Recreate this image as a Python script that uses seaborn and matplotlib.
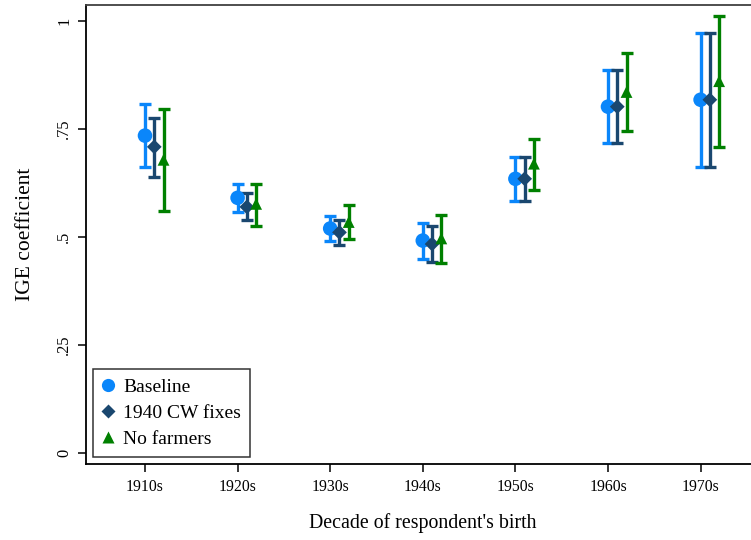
import numpy as np
import pandas as pd
import matplotlib
matplotlib.use("Agg")
import matplotlib.pyplot as plt
from matplotlib.lines import Line2D
import seaborn as sns

decades = ["1910s", "1920s", "1930s", "1940s", "1950s", "1960s", "1970s"]
series = ["Baseline", "1940 CW fixes", "No farmers"]

baseline_est = [0.734, 0.590, 0.519, 0.491, 0.634, 0.801, 0.817]
baseline_lo = [0.661, 0.557, 0.491, 0.448, 0.583, 0.718, 0.662]
baseline_hi = [0.808, 0.623, 0.548, 0.532, 0.685, 0.885, 0.972]

cw_est = [0.708, 0.569, 0.510, 0.483, 0.634, 0.801, 0.817]
cw_lo = [0.638, 0.539, 0.481, 0.441, 0.583, 0.718, 0.662]
cw_hi = [0.775, 0.600, 0.538, 0.525, 0.685, 0.885, 0.972]

nf_est = [0.678, 0.576, 0.534, 0.496, 0.669, 0.835, 0.860]
nf_lo = [0.560, 0.525, 0.494, 0.440, 0.609, 0.744, 0.708]
nf_hi = [0.796, 0.622, 0.573, 0.550, 0.727, 0.925, 1.011]

yticks = [0, 0.25, 0.5, 0.75, 1]
ytick_labels = ["0", ".25", ".5", ".75", "1"]

colors = ["#0a86fa", "#1a476f", "#008000"]
markers = ["o", "D", "^"]
msizes = [10.5, 7.5, 8.5]
offsets = [0.0, 0.1, 0.2]

sns.set_theme(style="white")
plt.rcParams["font.family"] = ["Liberation Serif", "DejaVu Serif"]
plt.rcParams["text.color"] = "black"
plt.rcParams["axes.labelcolor"] = "black"
plt.rcParams["xtick.color"] = "black"
plt.rcParams["ytick.color"] = "black"

rows = []
ests = [baseline_est, cw_est, nf_est]
los = [baseline_lo, cw_lo, nf_lo]
his = [baseline_hi, cw_hi, nf_hi]
for s_i, s in enumerate(series):
    for d_i, d in enumerate(decades):
        rows.append({"series": s, "decade": d, "x": d_i + offsets[s_i],
                     "est": ests[s_i][d_i], "lo": los[s_i][d_i], "hi": his[s_i][d_i]})
df = pd.DataFrame(rows)

fig = plt.figure(figsize=(7.51, 5.40), dpi=100)
W, H = 751, 540
left_px, right_px, top_px, bot_px = 86, 760, 4.7, 464
ax = fig.add_axes([left_px / W, 1 - bot_px / H, (right_px - left_px) / W, (bot_px - top_px) / H])

for s_i, s in enumerate(series):
    sub = df[df["series"] == s]
    ax.errorbar(sub["x"], sub["est"], yerr=[sub["est"] - sub["lo"], sub["hi"] - sub["est"]],
                fmt="none", ecolor=colors[s_i], elinewidth=2.4, capsize=4.3, capthick=2.4, zorder=2)

sns.scatterplot(data=df, x="x", y="est", hue="series", style="series",
                palette=dict(zip(series, colors)), markers=dict(zip(series, markers)),
                size="series", sizes=dict(zip(series, [m ** 2 for m in msizes])),
                edgecolor="none", linewidth=0, legend=False, ax=ax, zorder=3)

px_per_unit = 92.6
x0_px = 145
ax.set_xlim((left_px - x0_px) / px_per_unit, (right_px - x0_px) / px_per_unit)
y0_px, px_per_y = 452.7, 432
ax.set_ylim((y0_px - bot_px) / px_per_y, (y0_px - top_px) / px_per_y)

ax.set_xticks(range(len(decades)))
ax.set_xticklabels(decades, fontsize=11.3)
ax.set_yticks(yticks)
ax.set_yticklabels(ytick_labels, fontsize=11.8, rotation=90, va="center")
ax.tick_params(axis="both", direction="out", length=6, width=1.1, color="black",
               labelcolor="black", left=True, bottom=True, pad=4)
ax.tick_params(axis="x", pad=5)

for side in ["left", "bottom"]:
    ax.spines[side].set_color("black")
    ax.spines[side].set_linewidth(1.3)
ax.spines["top"].set_color("#404040")
ax.spines["top"].set_linewidth(1.3)
ax.spines["right"].set_visible(False)

ax.set_xlabel("Decade of respondent's birth", fontsize=14.3, labelpad=13, color="black")
ax.set_ylabel("IGE coefficient", fontsize=15.5, labelpad=15, color="black")
ax.grid(False)

handles = [Line2D([0], [0], marker=markers[i], color="none", markerfacecolor=colors[i],
                  markeredgecolor="none", markersize=[9.5, 7, 8][i], label=series[i])
           for i in range(3)]
leg = ax.legend(handles=handles, loc="lower left", bbox_to_anchor=((93 - left_px) / (right_px - left_px), (bot_px - 457) / (bot_px - top_px)),
                frameon=True, fancybox=False, fontsize=14, handlelength=0.6, handletextpad=0.5,
                borderpad=0.45, labelspacing=0.45, borderaxespad=0, labelcolor="black")
leg.get_frame().set_edgecolor("black")
leg.get_frame().set_linewidth(1.1)

fig.savefig("out.png", dpi=100)
